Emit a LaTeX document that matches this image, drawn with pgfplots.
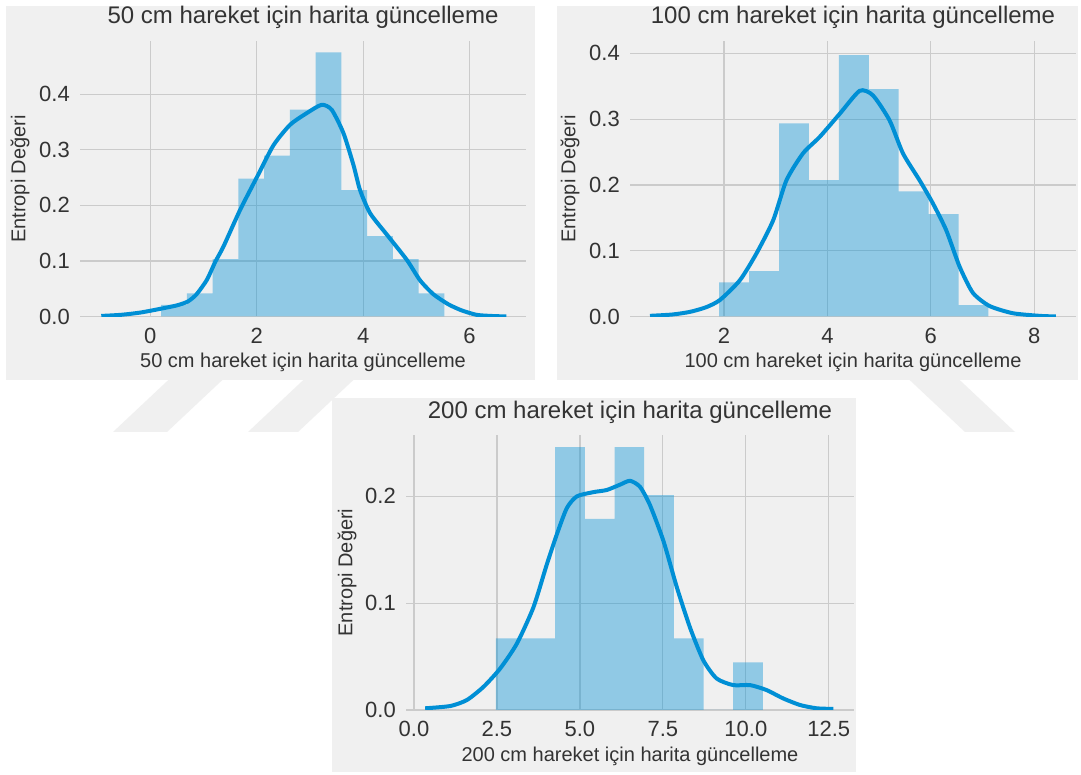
\documentclass[border=0pt]{standalone}
\usepackage{fontspec}
\setmainfont{Liberation Sans}
\usepackage{pgfplots}
\pgfplotsset{compat=1.18}
\definecolor{bgc}{HTML}{F0F0F0}
\definecolor{gridc}{HTML}{CBCBCB}
\definecolor{kde}{HTML}{008FD5}
\definecolor{txt}{HTML}{333333}

\pgfplotsset{
  panel/.style={
    scale only axis, width=446bp, height=275bp, anchor=south west,
    ymin=0,
    axis line style={draw=none}, major tick length=0pt,
    grid=major, major grid style={draw=gridc, line width=1.2bp},
    /pgf/number format/assume math mode=true,
    tick label style={font=\fontsize{22bp}{26bp}\selectfont, text=txt, inner sep=0pt},
    xticklabel style={anchor=center, yshift=-19bp},
    yticklabel style={anchor=east, xshift=-10bp,
      /pgf/number format/.cd, fixed, fixed zerofill, precision=1},
    title style={at={(axis description cs:0.5,1.0655)}, anchor=center, inner sep=0pt,
      font=\fontsize{24bp}{28bp}\selectfont, text=txt},
    xlabel style={at={(axis description cs:0.5,-0.1673)}, anchor=center, inner sep=0pt,
      font=\fontsize{20bp}{24bp}\selectfont, text=txt},
    ylabel style={at={(axis description cs:-0.1345,0.5)}, anchor=center, inner sep=0pt,
      font=\fontsize{20bp}{24bp}\selectfont, text=txt},
    ylabel={Entropi Değeri},
  },
  bars/.style={fill=kde, fill opacity=0.4, draw=none, const plot mark left},
  dens/.style={kde, line width=4bp, smooth, tension=0.4},
}

\begin{document}
\begin{tikzpicture}
\begin{scope}[x=1bp,y=1bp]
\fill[white] (0,0) rectangle (1081,775);
\useasboundingbox (0,0) rectangle (1081,775);
% faint watermark
\fill[bgc] (113,343) -- (167,343) -- (233,405) -- (179,405) -- cycle;
\fill[bgc] (248,343) -- (298,343) -- (364,405) -- (314,405) -- cycle;
\fill[bgc] (965,343) -- (1015,343) -- (949,405) -- (899,405) -- cycle;
% panel backgrounds
\fill[bgc] (6,395) rectangle (535,769);
\fill[bgc] (557,395) rectangle (1078,769);
\fill[bgc] (332,3) rectangle (856,377);
\end{scope}

% 50 cm
\begin{axis}[panel, at={(80bp,458.5bp)},
  xmin=-1.32, xmax=7.06, ymax=0.495,
  xtick={0,2,4,6}, ytick={0,0.1,0.2,0.3,0.4},
  title={50 cm hareket için harita güncelleme},
  xlabel={50 cm hareket için harita güncelleme}]
\addplot[bars] coordinates {
  (0.206,0.0207)(0.690,0.0414)(1.173,0.1034)(1.657,0.2482)(2.140,0.2895)
  (2.624,0.3722)(3.108,0.4756)(3.591,0.2275)(4.075,0.1448)(4.558,0.1034)
  (5.042,0.0414)(5.526,0.0414)} \closedcycle;
\addplot[dens] coordinates {
  (-0.92,0.001)(-0.55,0.003)(-0.19,0.007)(0.2,0.014)(0.5,0.020)(0.707,0.027)
  (0.87,0.040)(1.064,0.066)(1.22,0.098)(1.376,0.126)(1.689,0.192)(2.0,0.250)
  (2.314,0.308)(2.627,0.345)(2.94,0.366)(3.22,0.381)(3.41,0.372)(3.63,0.330)
  (3.82,0.272)(3.94,0.228)(4.13,0.186)(4.44,0.148)(4.82,0.102)(5.07,0.065)
  (5.32,0.040)(5.6,0.022)(5.85,0.011)(6.13,0.003)(6.40,0.001)(6.69,0.0)};
\end{axis}

% 100 cm
\begin{axis}[panel, at={(630bp,458.5bp)},
  xmin=0.18, xmax=8.81, ymax=0.418,
  xtick={2,4,6,8}, ytick={0,0.1,0.2,0.3,0.4},
  title={100 cm hareket için harita güncelleme},
  xlabel={100 cm hareket için harita güncelleme}]
\addplot[bars] coordinates {
  (1.905,0.0518)(2.484,0.0691)(3.063,0.2936)(3.642,0.2073)(4.221,0.3972)
  (4.800,0.3454)(5.379,0.1900)(5.958,0.1554)(6.537,0.0173)(7.116,0.0173)} \closedcycle;
\addplot[dens] coordinates {
  (0.567,0.001)(1.0,0.003)(1.339,0.007)(1.65,0.014)(1.919,0.025)(2.305,0.055)
  (2.628,0.096)(2.949,0.146)(3.207,0.207)(3.528,0.248)(3.851,0.273)(4.237,0.308)
  (4.624,0.343)(4.881,0.336)(5.203,0.298)(5.461,0.248)(5.783,0.207)(6.04,0.172)
  (6.299,0.131)(6.556,0.076)(6.814,0.036)(7.135,0.016)(7.585,0.005)(8.10,0.001)(8.42,0.0)};
\end{axis}

% 200 cm
\begin{axis}[panel, at={(406bp,65bp)}, width=448bp,
  xmin=-0.24, xmax=13.26, ymax=0.2575,
  xtick={0,2.5,5,7.5,10,12.5}, ytick={0,0.1,0.2},
  xticklabel style={/pgf/number format/.cd, fixed, fixed zerofill, precision=1},
  title style={at={(axis description cs:0.5,1.0597)}},
  ylabel style={at={(axis description cs:-0.1317,0.5)}},
  title={200 cm hareket için harita güncelleme},
  xlabel={200 cm hareket için harita güncelleme}]
\addplot[bars] coordinates {
  (2.467,0.0671)(3.361,0.0671)(4.255,0.2461)(5.149,0.1790)(6.043,0.2461)
  (6.937,0.2013)(7.831,0.0671)(8.725,0.0)(9.619,0.0447)(10.513,0.0447)} \closedcycle;
\addplot[dens] coordinates {
  (0.337,0.0016)(1.09,0.0037)(1.593,0.0093)(2.095,0.0217)(2.596,0.0388)(3.098,0.0620)
  (3.599,0.0961)(4.0,0.136)(4.30,0.164)(4.605,0.189)(4.907,0.200)(5.407,0.204)
  (5.81,0.206)(6.21,0.211)(6.51,0.2146)(6.81,0.209)(7.11,0.192)(7.52,0.158)
  (7.92,0.115)(8.32,0.077)(8.72,0.0465)(9.12,0.0295)(9.62,0.0233)(10.13,0.0233)
  (10.63,0.0186)(11.12,0.0109)(11.63,0.0047)(12.13,0.0016)(12.64,0.001)};
\end{axis}
\end{tikzpicture}
\end{document}
